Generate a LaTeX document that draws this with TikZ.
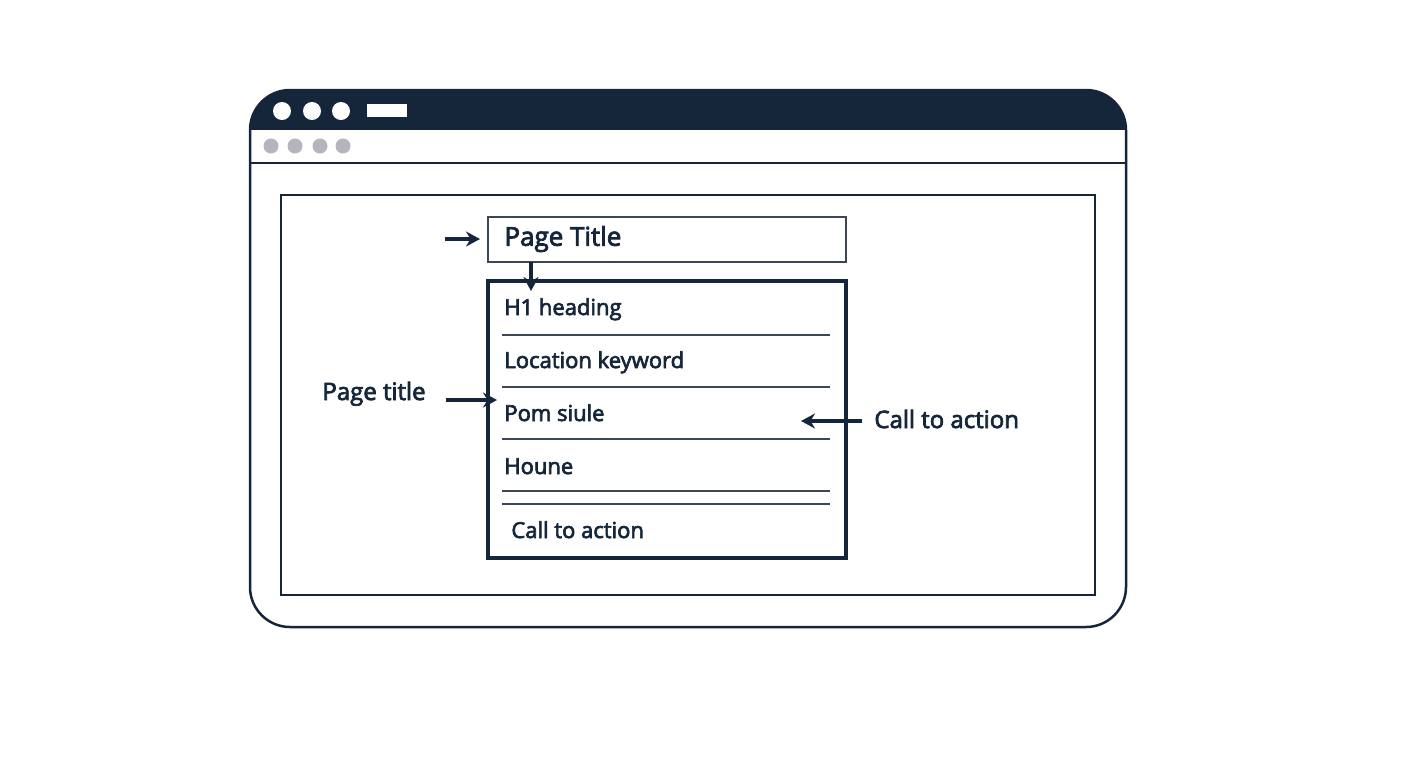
\documentclass[tikz,border=0pt]{standalone}
\usepackage{fontspec}
\setmainfont{Open Sans}
\newfontfamily\semib{Open Sans}[FakeBold=3]
\usetikzlibrary{positioning,arrows.meta}

\definecolor{navy}{HTML}{16263A}
\definecolor{dotgrey}{HTML}{B4B5BE}
\definecolor{rowline}{HTML}{3C4654}

\tikzset{
  rowtext/.style={anchor=base west, inner sep=0pt, text=navy, font=\semib\fontsize{11}{13}\selectfont},
  labeltext/.style={anchor=base west, inner sep=0pt, text=navy, font=\semib\fontsize{12}{14}\selectfont},
  pointer/.style={-{Stealth[length=7pt,width=7.5pt]}, line width=1.6pt, draw=navy},
  rowsep/.style={draw=rowline, line width=0.6pt}
}

\begin{document}
\begin{tikzpicture}[x=0.5pt, y=-0.5pt]

    % Page size
    \useasboundingbox (0,0) rectangle (1408,768);

    % Browser window
    \begin{scope}
      \clip[rounded corners=20] (250,90) rectangle (1126,627);
      \fill[navy] (250,90) rectangle (1126,130);
    \end{scope}
    \draw[navy, line width=1.25pt, rounded corners=20] (250,90) rectangle (1126,627);
    \draw[navy, line width=1.25pt] (250,163) -- (1126,163);

    % Window buttons
    \foreach \x in {282,312,341} {
      \fill[white] (\x,111) circle (9);
    }
    \fill[white] (367,104) rectangle (407,117);

    % Toolbar dots
    \foreach \x in {271,295,320,343} {
      \fill[dotgrey] (\x,146) circle (7.5);
    }

    % Content area
    \draw[navy, line width=0.6pt] (281,195) rectangle (1095,595);

    % Page title box
    \draw[rowline, line width=0.6pt] (488,217) rectangle (846,262);
    \node[anchor=west, inner sep=0pt, text=navy, font=\semib\fontsize{13}{15}\selectfont] (pagetitle) at (504,239) {Page Title};
    \coordinate (titlebox) at (488,239);

    % Main box
    \draw[navy, line width=1.6pt] (488,281) rectangle (846,558);
    \node[rowtext] (heading) at (504,315) {H1 heading};
    \node[rowtext] (keyword) at (504,368) {Location keyword};
    \node[rowtext] (pomsiule) at (504,421) {Pom siule};
    \node[rowtext] (houne) at (504,474) {Houne};
    \node[rowtext] (cta) at (511,538) {Call to action};

    % Row separators
    \foreach \y in {335,387,439,491,504} {
      \draw[rowsep] (502,\y) -- (830,\y);
    }

    % Side labels
    \node[labeltext] (lbltitle) at (322,400) {Page title};
    \node[labeltext] (lblcta) at (874,428) {Call to action};

    % Arrows
    \coordinate (titlein) at (445,239);
    \coordinate (downfrom) at (531,262);
    \coordinate (downto) at (531,291);
    \coordinate (boxleft) at (497,400);
    \coordinate (ctatip) at (801,421);

    \draw[pointer, shorten >=4pt] (titlein) -- (titlebox);
    \draw[pointer] (downfrom) -- (downto);
    \draw[pointer] (lbltitle.east |- boxleft) ++(20,0) -- (boxleft);
    \draw[pointer] (lblcta.west |- ctatip) ++(-12,0) -- (ctatip);

\end{tikzpicture}
\end{document}
